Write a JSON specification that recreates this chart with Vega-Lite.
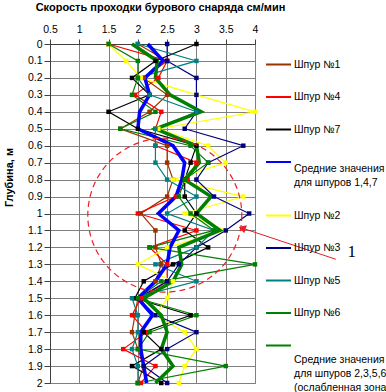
{
  "$schema": "https://vega.github.io/schema/vega-lite/v6.json",
  "width": 205,
  "height": 339,
  "autosize": {"type": "none"},
  "padding": {"left": 50, "top": 44, "right": 131, "bottom": 9},
  "background": "white",
  "config": {
    "font": "Liberation Sans",
    "view": {"stroke": "#808080", "strokeWidth": 1}
  },
  "datasets": {
    "wells": [
      {"d": 0.0, "Шпур №1": 2.0, "Шпур №4": 1.5, "Шпур №7": 3.0, "Средние значения для шпуров 1,4,7": 2.17, "Шпур №2": 1.5, "Шпур №3": 2.5, "Шпур №5": 2.0, "Шпур №6": 1.5, "Средние значения для шпуров 2,3,5,6 (ослабленная зона)": 1.9},
      {"d": 0.1, "Шпур №1": 2.5, "Шпур №4": 2.5, "Шпур №7": 2.3, "Средние значения для шпуров 1,4,7": 2.43, "Шпур №2": 1.8, "Шпур №3": 2.5, "Шпур №5": 3.0, "Шпур №6": 2.0, "Средние значения для шпуров 2,3,5,6 (ослабленная зона)": 2.33},
      {"d": 0.2, "Шпур №1": 2.1, "Шпур №4": 2.35, "Шпур №7": 1.9, "Средние значения для шпуров 1,4,7": 2.12, "Шпур №2": 2.05, "Шпур №3": 3.0, "Шпур №5": 2.0, "Шпур №6": 2.0, "Средние значения для шпуров 2,3,5,6 (ослабленная зона)": 2.3},
      {"d": 0.3, "Шпур №1": 2.5, "Шпур №4": 1.95, "Шпур №7": 2.2, "Средние значения для шпуров 1,4,7": 2.2, "Шпур №2": 3.0, "Шпур №3": 3.0, "Шпур №5": 2.2, "Шпур №6": 1.9, "Средние значения для шпуров 2,3,5,6 (ослабленная зона)": 2.55},
      {"d": 0.4, "Шпур №1": 2.2, "Шпур №4": 2.4, "Шпур №7": 1.5, "Средние значения для шпуров 1,4,7": 2.03, "Шпур №2": 4.0, "Шпур №3": 3.0, "Шпур №5": 3.0, "Шпур №6": 2.3, "Средние значения для шпуров 2,3,5,6 (ослабленная зона)": 3.08},
      {"d": 0.5, "Шпур №1": 1.7, "Шпур №4": 2.3, "Шпур №7": 2.0, "Средние значения для шпуров 1,4,7": 2.0, "Шпур №2": 2.35, "Шпур №3": 2.8, "Шпур №5": 2.3, "Шпур №6": 1.7, "Средние значения для шпуров 2,3,5,6 (ослабленная зона)": 2.3},
      {"d": 0.6, "Шпур №1": 2.5, "Шпур №4": 2.3, "Шпур №7": 3.0, "Средние значения для шпуров 1,4,7": 2.6, "Шпур №2": 3.2, "Шпур №3": 3.8, "Шпур №5": 2.3, "Шпур №6": 2.9, "Средние значения для шпуров 2,3,5,6 (ослабленная зона)": 3.0},
      {"d": 0.7, "Шпур №1": 2.5, "Шпур №4": 3.0, "Шпур №7": 2.9, "Средние значения для шпуров 1,4,7": 2.8, "Шпур №2": 3.5, "Шпур №3": 3.2, "Шпур №5": 2.3, "Шпур №6": 3.2, "Средние значения для шпуров 2,3,5,6 (ослабленная зона)": 3.05},
      {"d": 0.8, "Шпур №1": 2.6, "Шпур №4": 2.85, "Шпур №7": 2.8, "Средние значения для шпуров 1,4,7": 2.75, "Шпур №2": 2.6, "Шпур №3": 3.0, "Шпур №5": 2.5, "Шпур №6": 2.8, "Средние значения для шпуров 2,3,5,6 (ослабленная зона)": 2.8},
      {"d": 0.9, "Шпур №1": 2.5, "Шпур №4": 2.65, "Шпур №7": 2.8, "Средние значения для шпуров 1,4,7": 2.65, "Шпур №2": 3.8, "Шпур №3": 3.3, "Шпур №5": 3.0, "Шпур №6": 2.7, "Средние значения для шпуров 2,3,5,6 (ослабленная зона)": 3.25},
      {"d": 1.0, "Шпур №1": 2.05, "Шпур №4": 2.0, "Шпур №7": 3.0, "Средние значения для шпуров 1,4,7": 2.35, "Шпур №2": 2.8, "Шпур №3": 3.9, "Шпур №5": 2.5, "Шпур №6": 2.9, "Средние значения для шпуров 2,3,5,6 (ослабленная зона)": 3.0},
      {"d": 1.1, "Шпур №1": 2.3, "Шпур №4": 3.0, "Шпур №7": 2.8, "Средние значения для шпуров 1,4,7": 2.7, "Шпур №2": 3.5, "Шпур №3": 3.5, "Шпур №5": 3.3, "Шпур №6": 3.3, "Средние значения для шпуров 2,3,5,6 (ослабленная зона)": 3.4},
      {"d": 1.2, "Шпур №1": 2.3, "Шпур №4": 2.2, "Шпур №7": 3.2, "Средние значения для шпуров 1,4,7": 2.55, "Шпур №2": 2.5, "Шпур №3": 3.0, "Шпур №5": 3.0, "Шпур №6": 2.2, "Средние значения для шпуров 2,3,5,6 (ослабленная зона)": 2.7},
      {"d": 1.3, "Шпур №1": 2.4, "Шпур №4": 2.5, "Шпур №7": 2.6, "Средние значения для шпуров 1,4,7": 2.5, "Шпур №2": 2.0, "Шпур №3": 2.7, "Шпур №5": 2.3, "Шпур №6": 4.0, "Средние значения для шпуров 2,3,5,6 (ослабленная зона)": 2.75},
      {"d": 1.4, "Шпур №1": 2.3, "Шпур №4": 2.5, "Шпур №7": 2.1, "Средние значения для шпуров 1,4,7": 2.3, "Шпур №2": 2.6, "Шпур №3": 2.5, "Шпур №5": 3.0, "Шпур №6": 2.4, "Средние значения для шпуров 2,3,5,6 (ослабленная зона)": 2.6},
      {"d": 1.5, "Шпур №1": 2.0, "Шпур №4": 2.05, "Шпур №7": 1.95, "Средние значения для шпуров 1,4,7": 2.0, "Шпур №2": 2.5, "Шпур №3": 2.0, "Шпур №5": 1.9, "Шпур №6": 2.0, "Средние значения для шпуров 2,3,5,6 (ослабленная зона)": 2.1},
      {"d": 1.6, "Шпур №1": 1.95, "Шпур №4": 1.9, "Шпур №7": 2.9, "Средние значения для шпуров 1,4,7": 2.25, "Шпур №2": 2.3, "Шпур №3": 2.3, "Шпур №5": 2.0, "Шпур №6": 3.0, "Средние значения для шпуров 2,3,5,6 (ослабленная зона)": 2.4},
      {"d": 1.7, "Шпур №1": 1.9, "Шпур №4": 2.15, "Шпур №7": 2.1, "Средние значения для шпуров 1,4,7": 2.05, "Шпур №2": 2.8, "Шпур №3": 3.0, "Шпур №5": 2.0, "Шпур №6": 2.2, "Средние значения для шпуров 2,3,5,6 (ослабленная зона)": 2.5},
      {"d": 1.8, "Шпур №1": 2.0, "Шпур №4": 1.75, "Шпур №7": 2.4, "Средние значения для шпуров 1,4,7": 2.05, "Шпур №2": 3.0, "Шпур №3": 2.5, "Шпур №5": 1.9, "Шпур №6": 2.0, "Средние значения для шпуров 2,3,5,6 (ослабленная зона)": 2.4},
      {"d": 1.9, "Шпур №1": 2.1, "Шпур №4": 2.3, "Шпур №7": 1.9, "Средние значения для шпуров 1,4,7": 2.1, "Шпур №2": 2.8, "Шпур №3": 2.1, "Шпур №5": 2.0, "Шпур №6": 3.5, "Средние значения для шпуров 2,3,5,6 (ослабленная зона)": 2.6},
      {"d": 2.0, "Шпур №1": 2.0, "Шпур №4": 2.05, "Шпур №7": 2.4, "Средние значения для шпуров 1,4,7": 2.15, "Шпур №2": 2.7, "Шпур №3": 2.5, "Шпур №5": 2.0, "Шпур №6": 2.0, "Средние значения для шпуров 2,3,5,6 (ослабленная зона)": 2.3}
    ],
    "ring": [{"v": 2.46, "d": 1.01}],
    "arrow": [{"v": 3.78, "d": 1.086, "v2": 5.38, "d2": 1.27}],
    "note": [{"v": 5.65, "d": 1.23, "t": "1"}]
  },
  "encoding": {
    "x": {
      "field": "v", "type": "quantitative",
      "scale": {"domain": [0.5, 4], "nice": false, "zero": false},
      "axis": {
        "orient": "top", "values": [0.5, 1, 1.5, 2, 2.5, 3, 3.5, 4], "format": ".1~f",
        "title": "Скорость проходки бурового снаряда см/мин",
        "titleFontWeight": "bold", "titleFontSize": 11, "titleColor": "black",
        "titleX": 110, "titleY": -37, "titleBaseline": "middle", "titleAlign": "center",
        "labelFontSize": 10.5, "labelColor": "black", "labelPadding": 5, "labelFlush": false,
        "tickSize": 5, "tickColor": "#404040", "domainColor": "#404040",
        "grid": true, "gridColor": "#808080", "gridOpacity": 1
      }
    },
    "y": {
      "field": "d", "type": "quantitative",
      "scale": {"domain": [0, 2], "reverse": true, "nice": false, "zero": false},
      "axis": {
        "values": [0, 0.1, 0.2, 0.3, 0.4, 0.5, 0.6, 0.7, 0.8, 0.9, 1, 1.1, 1.2, 1.3, 1.4, 1.5, 1.6, 1.7, 1.8, 1.9, 2],
        "format": ".1~f",
        "title": "Глубина, м", "titleFontWeight": "bold", "titleFontSize": 11, "titleColor": "black",
        "titleAngle": -90, "titleX": -41, "titleY": 133, "titleBaseline": "middle", "titleAlign": "center",
        "labelFontSize": 10.5, "labelColor": "black", "labelPadding": 2, "labelFlush": false,
        "tickSize": 6, "tickColor": "#404040", "domainColor": "#404040",
        "grid": true, "gridColor": "#808080", "gridOpacity": 1
      }
    }
  },
  "layer": [
    {
      "data": {"name": "wells"},
      "transform": [
        {"fold": ["Шпур №1", "Шпур №4", "Шпур №7", "Шпур №2", "Шпур №3", "Шпур №5", "Шпур №6"], "as": ["key", "v"]}
      ],
      "mark": {"type": "line", "strokeWidth": 1.2},
      "encoding": {
        "color": {
          "field": "key", "type": "nominal",
          "scale": {
            "domain": ["Шпур №1", "Шпур №4", "Шпур №7", "Средние значения для шпуров 1,4,7", "Шпур №2", "Шпур №3", "Шпур №5", "Шпур №6", "Средние значения для шпуров 2,3,5,6 (ослабленная зона)"],
            "range": ["#993300", "#ff0000", "#000000", "#0000ff", "#ffff00", "#000080", "#008080", "#008000", "#008000"]
          },
          "legend": {
            "title": null, "orient": "none", "legendX": 215, "legendY": 7,
            "padding": 0, "labelFont": "Liberation Sans", "labelFontSize": 10.5, "labelColor": "black",
            "labelLimit": 200, "labelOffset": 2, "symbolSize": 625, "symbolStrokeWidth": 2, "rowPadding": 13.5,
            "labelExpr": "datum.label == 'Средние значения для шпуров 1,4,7' ? ['Средние значения', 'для шпуров  1,4,7'] : datum.label == 'Средние значения для шпуров 2,3,5,6 (ослабленная зона)' ? ['Средние значения', 'для шпуров  2,3,5,6', '(ослабленная зона)'] : datum.label",
            "encode": {
              "labels": {
                "update": {
                  "lineHeight": {"value": 14},
                  "dy": {"signal": "indexof(datum.value, '1,4,7') >= 0 ? 7 : indexof(datum.value, '2,3,5,6') >= 0 ? 14 : 0"}
                }
              }
            }
          }
        },
        "order": {"field": "d", "type": "quantitative"}
      }
    },
    {
      "data": {"name": "wells"},
      "transform": [
        {"fold": ["Средние значения для шпуров 1,4,7", "Средние значения для шпуров 2,3,5,6 (ослабленная зона)"], "as": ["key", "v"]}
      ],
      "mark": {"type": "line", "strokeWidth": 3.5},
      "encoding": {
        "color": {"field": "key", "type": "nominal", "legend": null},
        "order": {"field": "d", "type": "quantitative"}
      }
    },
    {
      "data": {"name": "wells"},
      "transform": [
        {"fold": ["Шпур №1", "Шпур №4", "Шпур №7", "Шпур №2", "Шпур №3", "Шпур №5", "Шпур №6"], "as": ["key", "v"]}
      ],
      "mark": {"type": "point", "shape": "square", "filled": true, "size": 20, "opacity": 1},
      "encoding": {
        "color": {"field": "key", "type": "nominal", "legend": null}
      }
    },
    {
      "data": {"name": "ring"},
      "mark": {"type": "point", "shape": "circle", "filled": false, "size": 23716, "stroke": "#ee1c25", "strokeWidth": 1.2, "strokeDash": [6, 4], "opacity": 1, "clip": false}
    },
    {
      "data": {"name": "arrow"},
      "mark": {"type": "rule", "color": "#ee1c25", "strokeWidth": 1, "clip": false},
      "encoding": {
        "x2": {"field": "v2"},
        "y2": {"field": "d2"}
      }
    },
    {
      "data": {"name": "arrow"},
      "mark": {"type": "point", "shape": "triangle-left", "filled": true, "size": 70, "angle": 18, "color": "#ee1c25", "opacity": 1, "clip": false}
    },
    {
      "data": {"name": "note"},
      "mark": {"type": "text", "font": "Liberation Serif", "fontSize": 17, "color": "black", "clip": false},
      "encoding": {"text": {"field": "t"}}
    }
  ]
}
